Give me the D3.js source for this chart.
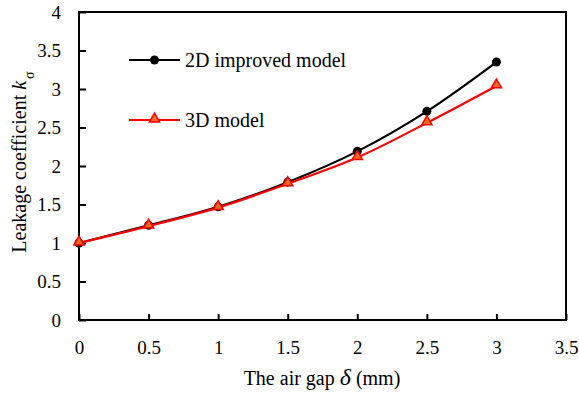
<!DOCTYPE html>
<html>
<head>
<meta charset="utf-8">
<script src="https://cdn.jsdelivr.net/npm/d3@7"></script>
<style>
  body { margin: 0; background: #fff; }
  text { font-family: "Liberation Serif", "Times New Roman", serif; fill: #000; }
</style>
</head>
<body>
<div class="chart"></div>
<script>
const width = 579;
const height = 393;

// data
const airGap = [0, 0.5, 1, 1.5, 2, 2.5, 3];
const model2D = [1.0, 1.23, 1.47, 1.79, 2.19, 2.71, 3.35];
const model3D = [1.0, 1.22, 1.46, 1.77, 2.11, 2.56, 3.04];
const xTicks = [0, 0.5, 1, 1.5, 2, 2.5, 3, 3.5];
const yTicks = [0, 0.5, 1, 1.5, 2, 2.5, 3, 3.5, 4];
const seriesNames = ['2D improved model', '3D model'];

const margin = { left: 79, right: 13, top: 12, bottom: 73 };

const svg = d3.select('.chart')
  .append('svg')
  .attr('width', width)
  .attr('height', height);

const xScale = d3.scaleLinear()
  .domain([0, 3.5])
  .range([margin.left, width - margin.right]);

const yScale = d3.scaleLinear()
  .domain([0, 4])
  .range([height - margin.bottom, margin.top]);

// frame
svg.append('rect')
  .attr('x', xScale(0))
  .attr('y', yScale(4))
  .attr('width', xScale(3.5) - xScale(0))
  .attr('height', yScale(0) - yScale(4))
  .attr('fill', 'none')
  .attr('stroke', '#000')
  .attr('stroke-width', 2);

// x axis (ticks point inward)
const xAxis = d3.axisBottom(xScale)
  .tickValues(xTicks)
  .tickSize(-6)
  .tickPadding(21)
  .tickFormat(d3.format('~g'));

svg.append('g')
  .attr('transform', `translate(0, ${yScale(0)})`)
  .call(xAxis)
  .call((g) => {
    g.select('.domain').remove();
    g.selectAll('line').attr('stroke', '#000').attr('stroke-width', 2);
    g.selectAll('text').style('font-size', '19px').style('font-family', '"Liberation Serif", serif');
  });

// y axis
const yAxis = d3.axisLeft(yScale)
  .tickValues(yTicks)
  .tickSize(-7)
  .tickPadding(18)
  .tickFormat(d3.format('~g'));

svg.append('g')
  .attr('transform', `translate(${xScale(0)}, 0)`)
  .call(yAxis)
  .call((g) => {
    g.select('.domain').remove();
    g.selectAll('line').attr('stroke', '#000').attr('stroke-width', 2);
    g.selectAll('text').style('font-size', '19px').style('font-family', '"Liberation Serif", serif');
  });

// lines
const line = (vals) => d3.line()
  .x((_d, i) => xScale(airGap[i]))
  .y((d) => yScale(d))
  .curve(d3.curveCatmullRom.alpha(0.5))(vals);

svg.append('path')
  .attr('d', line(model2D))
  .attr('fill', 'none')
  .attr('stroke', '#000')
  .attr('stroke-width', 2.2);

svg.selectAll('.dot2d')
  .data(model2D)
  .enter()
  .append('circle')
  .attr('class', 'dot2d')
  .attr('cx', (_d, i) => xScale(airGap[i]))
  .attr('cy', (d) => yScale(d))
  .attr('r', 4.5)
  .attr('fill', '#000');

svg.append('path')
  .attr('d', line(model3D))
  .attr('fill', 'none')
  .attr('stroke', '#ff0000')
  .attr('stroke-width', 2.2);

const tri = d3.symbol().type(d3.symbolTriangle).size(45);

svg.selectAll('.tri3d')
  .data(model3D)
  .enter()
  .append('path')
  .attr('class', 'tri3d')
  .attr('d', tri)
  .attr('transform', (d, i) => `translate(${xScale(airGap[i])}, ${yScale(d) - 1})`)
  .attr('fill', '#f26b1d')
  .attr('stroke', '#ff0000')
  .attr('stroke-width', 1.5);

// legend
const legend = svg.append('g');
const legendY = [60, 120];

legend.selectAll('line')
  .data(seriesNames)
  .enter()
  .append('line')
  .attr('x1', 129)
  .attr('x2', 180)
  .attr('y1', (_d, i) => legendY[i])
  .attr('y2', (_d, i) => legendY[i])
  .attr('stroke', (_d, i) => (i === 0 ? '#000' : '#ff0000'))
  .attr('stroke-width', 2.2);

legend.append('circle')
  .attr('cx', 154.5)
  .attr('cy', legendY[0])
  .attr('r', 4.5)
  .attr('fill', '#000');

legend.append('path')
  .attr('d', tri)
  .attr('transform', `translate(154.5, ${legendY[1] - 1})`)
  .attr('fill', '#f26b1d')
  .attr('stroke', '#ff0000')
  .attr('stroke-width', 1.5);

legend.selectAll('text')
  .data(seriesNames)
  .enter()
  .append('text')
  .attr('x', 185)
  .attr('y', (_d, i) => legendY[i] + 7)
  .style('font-size', '20px')
  .text((d) => d);

// axis titles
const xTitle = svg.append('text')
  .attr('x', 322)
  .attr('y', 385)
  .attr('text-anchor', 'middle')
  .style('font-size', '20px');
xTitle.append('tspan').text('The air gap ');
xTitle.append('tspan').style('font-style', 'italic').style('font-size', '24px').text('δ');
xTitle.append('tspan').text(' (mm)');

const yTitle = svg.append('text')
  .attr('transform', 'translate(26, 162) rotate(-90)')
  .attr('text-anchor', 'middle')
  .style('font-size', '20px');
yTitle.append('tspan').text('Leakage coefficient ');
yTitle.append('tspan').style('font-style', 'italic').text('k');
yTitle.append('tspan').attr('dx', 2).attr('dy', 8).style('font-size', '14px').text('σ');
</script>
</body>
</html>
